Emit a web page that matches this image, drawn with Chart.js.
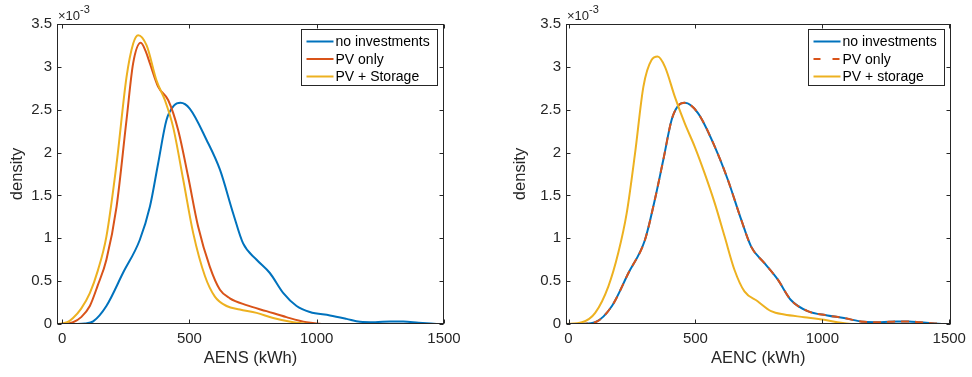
<!DOCTYPE html>
<html>
<head>
<meta charset="utf-8">
<script src="https://cdn.jsdelivr.net/npm/chart.js@4/dist/chart.umd.min.js"></script>
<style>
  html,body{margin:0;padding:0;background:#fff;}
  #wrap{position:relative;width:972px;height:377px;}
  .box{position:absolute;top:0;height:377px;}
</style>
</head>
<body>
<div id="wrap">
  <div class="box" style="left:0;width:490px"><canvas id="cLeft"></canvas></div>
  <div class="box" style="left:490px;width:482px"><canvas id="cRight"></canvas></div>
</div>
<script>
// density values are in units of 1e-3 (axis shows x10^-3)
const xTicks = [0, 500, 1000, 1500];
const yTicks = [0, 0.5, 1, 1.5, 2, 2.5, 3, 3.5];

// left panel: AENS
const aensNoInvX = [-20, 60, 90, 122, 174, 240, 305, 345, 377, 410, 440, 465, 502, 567, 620, 672, 711, 764, 816, 869, 921, 973, 1052, 1117, 1170, 1230, 1288, 1340, 1400, 1471];
const aensNoInvY = [0, 0, 0.005, 0.03, 0.21, 0.6, 0.98, 1.37, 1.87, 2.38, 2.55, 2.58, 2.51, 2.15, 1.8, 1.29, 0.94, 0.75, 0.595, 0.36, 0.21, 0.14, 0.1, 0.06, 0.025, 0.02, 0.03, 0.03, 0.015, 0];
const aensPvX = [-20, 20, 43, 75, 109, 140, 174, 214, 253, 279, 309, 330, 345, 377, 417, 456, 495, 534, 580, 620, 659, 724, 803, 881, 960, 1019];
const aensPvY = [0, 0.005, 0.02, 0.08, 0.21, 0.45, 0.75, 1.37, 2.38, 3.04, 3.28, 3.17, 3.04, 2.77, 2.61, 2.26, 1.72, 1.14, 0.67, 0.4, 0.3, 0.22, 0.15, 0.08, 0.02, 0];
const aensPvStX = [-20, 20, 43, 75, 109, 140, 174, 214, 253, 279, 299, 332, 371, 404, 436, 476, 515, 561, 600, 646, 698, 764, 829, 908, 967];
const aensPvStY = [0, 0.02, 0.07, 0.18, 0.36, 0.62, 1.02, 1.87, 2.88, 3.27, 3.37, 3.25, 2.84, 2.61, 2.3, 1.68, 1.06, 0.56, 0.32, 0.21, 0.17, 0.13, 0.07, 0.02, 0];

// right panel: AENC
const aencNoInvX = [-10, 60, 105, 171, 236, 301, 340, 373, 406, 430, 458, 510, 576, 628, 680, 720, 772, 824, 876, 942, 1020, 1085, 1164, 1230, 1294, 1340, 1386, 1471];
const aencNoInvY = [0, 0.003, 0.02, 0.21, 0.595, 0.98, 1.45, 1.91, 2.38, 2.54, 2.58, 2.46, 2.07, 1.68, 1.22, 0.9, 0.71, 0.52, 0.28, 0.15, 0.1, 0.07, 0.025, 0.02, 0.03, 0.03, 0.02, 0];
const aencPvX = [-10, 60, 105, 171, 236, 301, 340, 373, 406, 430, 458, 510, 576, 628, 680, 720, 772, 824, 876, 942, 1020, 1085, 1164, 1230, 1294, 1340, 1386, 1471];
const aencPvY = [0, 0.003, 0.02, 0.21, 0.595, 0.98, 1.45, 1.91, 2.38, 2.54, 2.58, 2.46, 2.07, 1.68, 1.22, 0.9, 0.71, 0.52, 0.28, 0.15, 0.1, 0.07, 0.025, 0.02, 0.03, 0.03, 0.02, 0];
const aencPvStX = [-10, 53, 105, 157, 196, 229, 262, 295, 327, 351, 380, 419, 458, 497, 536, 576, 615, 654, 693, 745, 798, 850, 929, 1007, 1059, 1112];
const aencPvStY = [0, 0.02, 0.13, 0.44, 0.83, 1.29, 1.99, 2.77, 3.08, 3.12, 3.0, 2.65, 2.34, 2.07, 1.76, 1.41, 1.02, 0.63, 0.38, 0.265, 0.15, 0.11, 0.08, 0.05, 0.02, 0];

const BLUE = '#0072BD', ORANGE = '#D95319', YELLOW = '#EDB120', AX = '#262626';
const FONT = 'Liberation Sans, Arial, Helvetica, sans-serif';

function pts(xs, ys){ return xs.map((x,i)=>({x, y:ys[i]})); }
function ds(label, xs, ys, color, order, dash){
  return {label, data:pts(xs,ys), borderColor:color, backgroundColor:color, borderWidth:2,
    pointRadius:0, cubicInterpolationMode:'monotone', order, borderDash:dash||[], fill:false};
}

// box, inward ticks, exponent label
const framePlugin = {
  id:'frame',
  afterDraw(chart){
    const {ctx, chartArea:a, scales} = chart;
    ctx.save();
    ctx.strokeStyle = AX; ctx.lineWidth = 1;
    const L=Math.round(a.left)+0.5, R=Math.round(a.right)-0.5, T=Math.round(a.top)+0.5, B=Math.round(a.bottom)-0.5;
    ctx.strokeRect(L, T, R-L, B-T);
    ctx.beginPath();
    scales.x.ticks.forEach(t=>{
      const px = Math.round(scales.x.getPixelForValue(t.value))+0.5;
      ctx.moveTo(px, B); ctx.lineTo(px, B-4);
      ctx.moveTo(px, T); ctx.lineTo(px, T+4);
    });
    scales.y.ticks.forEach(t=>{
      const py = Math.round(scales.y.getPixelForValue(t.value))+0.5;
      ctx.moveTo(L, py); ctx.lineTo(L+4, py);
      ctx.moveTo(R, py); ctx.lineTo(R-4, py);
    });
    ctx.stroke();
    ctx.fillStyle = AX; ctx.textBaseline = 'alphabetic'; ctx.textAlign = 'left';
    ctx.font = '13px ' + FONT;
    ctx.fillText('\u00d710', a.left+1, a.top-4);
    const w = ctx.measureText('\u00d710').width;
    ctx.font = '11px ' + FONT;
    ctx.fillText('-3', a.left+1+w, a.top-11);
    ctx.restore();
  }
};

// legend box inside the plot, top right
const boxLegend = {
  id:'boxLegend',
  afterDraw(chart){
    const {ctx, chartArea:a} = chart;
    const w=136, h=56, x0=Math.round(a.right-7-w)+0.5, y0=Math.round(a.top+5)+0.5;
    ctx.save();
    ctx.fillStyle='#fff'; ctx.fillRect(x0,y0,w,h);
    ctx.strokeStyle=AX; ctx.lineWidth=1; ctx.strokeRect(x0,y0,w,h);
    ctx.font='14px '+FONT; ctx.textBaseline='middle'; ctx.textAlign='left';
    chart.data.datasets.forEach((d,i)=>{
      const yy = y0 + 12 + i*17.5;
      ctx.strokeStyle=d.borderColor; ctx.lineWidth=2; ctx.setLineDash(d.borderDash.length?[7,12]:[]);
      ctx.beginPath(); ctx.moveTo(x0+5,yy); ctx.lineTo(x0+32,yy); ctx.stroke();
      ctx.setLineDash([]);
      ctx.fillStyle='#000'; ctx.fillText(d.label, x0+34, yy+1);
    });
    ctx.restore();
  }
};

function makeChart(id, datasets, xMin, xMax, xTitle, yWidth, yTitlePad, padRight){
  return new Chart(document.getElementById(id), {
    type:'line',
    data:{datasets},
    plugins:[framePlugin, boxLegend],
    options:{
      responsive:true, maintainAspectRatio:false, animation:false,
      layout:{padding:{top:24, right:padRight, left:0, bottom:0}},
      plugins:{legend:{display:false}, tooltip:{enabled:false}},
      scales:{
        x:{type:'linear', min:xMin, max:xMax,
          afterBuildTicks:s=>{ s.ticks = xTicks.map(v=>({value:v})); },
          afterFit:s=>{ s.height = 53; },
          grid:{display:false, drawTicks:false}, border:{display:false},
          ticks:{color:AX, font:{family:FONT, size:15}, padding:6, maxRotation:0, callback:v=>String(v)},
          title:{display:true, text:xTitle, color:AX, font:{family:FONT, size:16.5}, padding:{top:0,bottom:9}}
        },
        y:{type:'linear', min:0, max:3.5,
          afterBuildTicks:s=>{ s.ticks = yTicks.map(v=>({value:v})); },
          afterFit:s=>{ s.width = yWidth; },
          grid:{display:false, drawTicks:false}, border:{display:false},
          ticks:{color:AX, font:{family:FONT, size:15}, padding:5, callback:v=>String(v)},
          title:{display:true, text:'density', color:AX, font:{family:FONT, size:16.5}, padding:{top:yTitlePad,bottom:0}}
        }
      }
    }
  });
}

makeChart('cLeft', [
  ds('no investments', aensNoInvX, aensNoInvY, BLUE, 3),
  ds('PV only', aensPvX, aensPvY, ORANGE, 2),
  ds('PV + Storage', aensPvStX, aensPvStY, YELLOW, 1)
], -20, 1500, 'AENS (kWh)', 57, 8, 46);

makeChart('cRight', [
  ds('no investments', aencNoInvX, aencNoInvY, BLUE, 3),
  ds('PV only', aencPvX, aencPvY, ORANGE, 2, [8,6]),
  ds('PV + storage', aencPvStX, aencPvStY, YELLOW, 1)
], -10, 1505, 'AENC (kWh)', 76, 21, 20);
</script>
</body>
</html>
